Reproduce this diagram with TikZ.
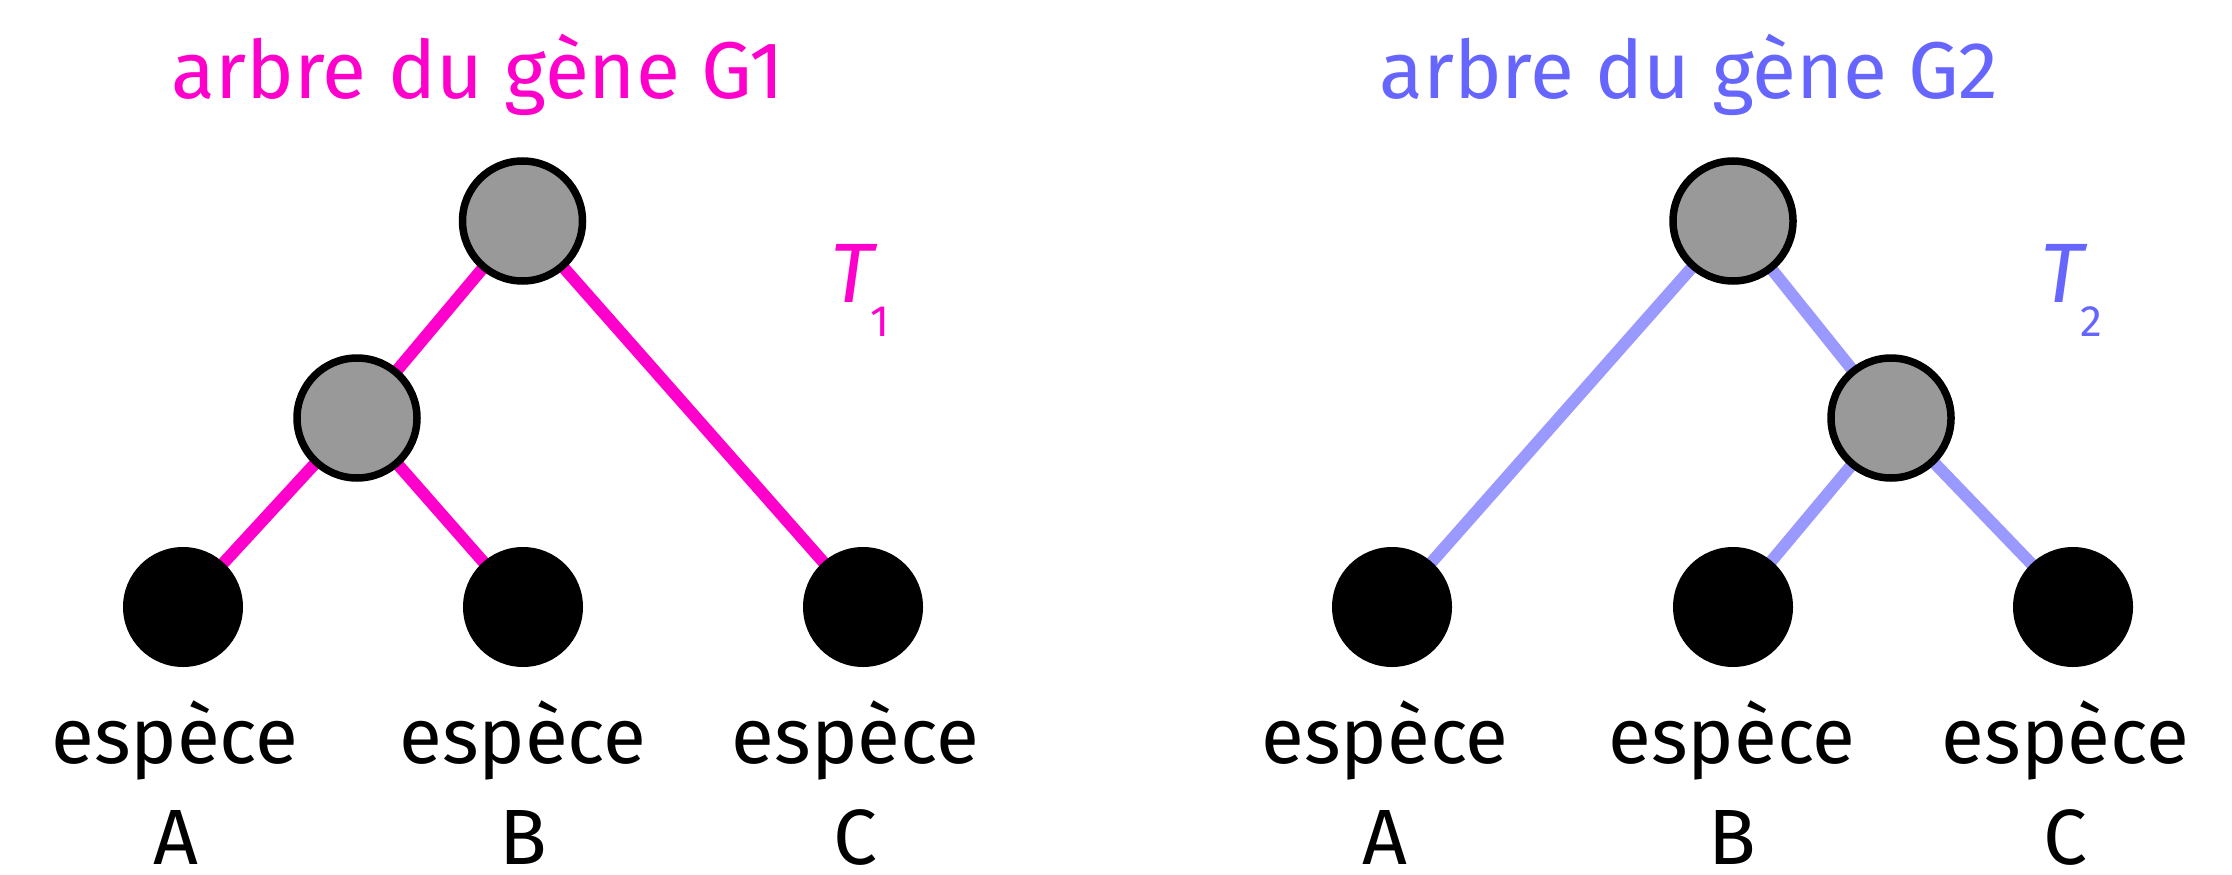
\documentclass[tikz,border=0pt]{standalone}
\usepackage{fontspec}
\setmainfont{Fira Sans}
\usetikzlibrary{backgrounds}
\definecolor{gacol}{HTML}{FF00CC}
\definecolor{gbcol}{HTML}{6666FF}
\definecolor{gbedge}{HTML}{9999FF}
\definecolor{ncol}{HTML}{999999}

\begin{document}
\begin{tikzpicture}[
  inner/.style={circle,draw=black,line width=0.075cm,fill=ncol,minimum size=1.2cm,inner sep=0pt},
  leaf/.style={circle,fill=black,minimum size=1.2cm,inner sep=0pt},
  branch/.style={line width=0.12cm},
  lab/.style={font=\fontsize{22.3}{26}\selectfont,inner sep=0pt,anchor=base},
  head/.style={font=\fontsize{22.9}{27}\selectfont,inner sep=0pt,anchor=base}]
\useasboundingbox (0,0) rectangle (22.32,8.74);
% gene tree G1
\node[head,gacol] (title1) at (4.78,7.75) {arbre du gène G1};
\node[inner] (r1) at (5.225,6.53) {};
\node[inner] (m1) at (3.57,4.56) {};
\node[leaf] (a1) at (1.83,2.67) {};
\node[leaf] (b1) at (5.23,2.67) {};
\node[leaf] (c1) at (8.63,2.67) {};
\begin{scope}[on background layer]
\draw[branch,gacol] (r1.center)--(m1.center);
\draw[branch,gacol] (r1.center)--(c1.center);
\draw[branch,gacol] (m1.center)--(a1.center);
\draw[branch,gacol] (m1.center)--(b1.center);
\end{scope}
\node[head,gacol,anchor=base west,font=\fontsize{24}{28}\selectfont] (time1) at (8.30,5.72) {\textit{T}\kern-0.08cm\raisebox{-0.35cm}{\fontsize{12.5}{15}\selectfont 1}};
\node[lab] (sa1) at (1.75,1.11) {espèce};
\node[lab] (sb1) at (5.23,1.11) {espèce};
\node[lab] (sc1) at (8.555,1.11) {espèce};
\node[lab] (na1) at (1.76,0.1) {A};
\node[lab] (nb1) at (5.23,0.1) {B};
\node[lab] (nc1) at (8.555,0.1) {C};
% gene tree G2
\node[head,gbcol] (title2) at (16.89,7.75) {arbre du gène G2};
\node[inner] (r2) at (17.33,6.53) {};
\node[inner] (m2) at (18.91,4.56) {};
\node[leaf] (a2) at (13.92,2.67) {};
\node[leaf] (b2) at (17.33,2.67) {};
\node[leaf] (c2) at (20.73,2.67) {};
\begin{scope}[on background layer]
\draw[branch,gbedge] (r2.center)--(a2.center);
\draw[branch,gbedge] (r2.center)--(m2.center);
\draw[branch,gbedge] (m2.center)--(b2.center);
\draw[branch,gbedge] (m2.center)--(c2.center);
\end{scope}
\node[head,gbcol,anchor=base west,font=\fontsize{24}{28}\selectfont] (time2) at (20.40,5.72) {\textit{T}\kern-0.08cm\raisebox{-0.35cm}{\fontsize{12.5}{15}\selectfont 2}};
\node[lab] (sa2) at (13.85,1.11) {espèce};
\node[lab] (sb2) at (17.32,1.11) {espèce};
\node[lab] (sc2) at (20.655,1.11) {espèce};
\node[lab] (na2) at (13.85,0.1) {A};
\node[lab] (nb2) at (17.32,0.1) {B};
\node[lab] (nc2) at (20.655,0.1) {C};
\end{tikzpicture}
\end{document}
